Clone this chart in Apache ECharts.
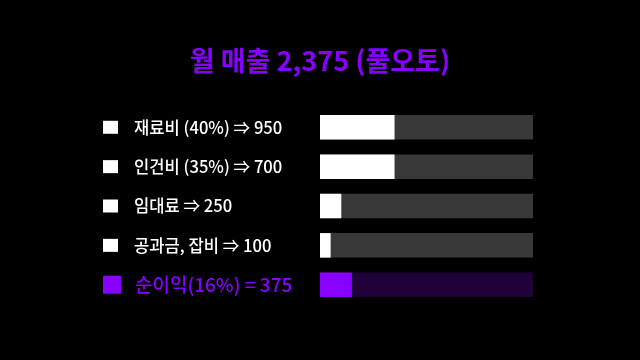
<!DOCTYPE html>
<html><head><meta charset="utf-8">
<script src="https://cdn.jsdelivr.net/npm/echarts@6/dist/echarts.min.js"></script>
<style>html,body{margin:0;padding:0;background:#000}#c{width:640px;height:360px}</style>
</head><body><div id="c"></div>
<script>
var titleText = '월 매출 2,375 (풀오토)';
var categories = ['재료비 (40%) ⇒ 950', '인건비 (35%) ⇒ 700', '임대료 ⇒ 250', '공과금, 잡비 ⇒ 100', '순이익(16%) = 375'];
var amounts = [950, 700, 250, 100, 375];
// bar fill lengths as drawn in the picture (percent of track)
var barFill = [35, 35, 10, 5, 15];
var trackMax = 100;

var PURPLE = '#8800ff';
var chart = echarts.init(document.getElementById('c'));
var last = categories.length - 1;
chart.setOption({
  backgroundColor: '#000',
  animation: false,
  title: {
    text: titleText, left: 'center', top: 42,
    textStyle: { color: PURPLE, fontSize: 27, fontWeight: 'bold', fontFamily: 'Noto Sans CJK KR' }
  },
  grid: { left: 320, right: 107, top: 107.6, bottom: 55.6 },
  xAxis: { type: 'value', min: 0, max: trackMax, show: false },
  yAxis: {
    type: 'category', inverse: true, data: categories,
    axisLine: { show: false }, axisTick: { show: false },
    axisLabel: {
      align: 'left', margin: 217,
      fontFamily: 'Noto Sans CJK KR',
      formatter: function (v, i) {
        return i === last ? '{sqb| }{gapb| }{tb|' + v + '}' : '{sq| }{gap| }{t|' + v + '}';
      },
      rich: {
        sq: { width: 15, height: 13, backgroundColor: '#fff' },
        gap: { width: 16 },
        t: { color: '#fff', fontSize: 16.6, fontFamily: 'Noto Sans CJK KR', fontWeight: 500 },
        sqb: { width: 18, height: 18, backgroundColor: PURPLE },
        gapb: { width: 14 },
        tb: { color: PURPLE, fontSize: 19, fontFamily: 'Noto Sans CJK KR', fontWeight: 500 }
      }
    }
  },
  series: [
    {
      type: 'bar', barWidth: 24.5, barGap: '-100%', silent: true,
      data: categories.map(function (c, i) {
        return { value: trackMax, itemStyle: { color: i === last ? '#1f0038' : '#383838' } };
      })
    },
    {
      type: 'bar', barWidth: 24.5, silent: true,
      data: barFill.map(function (v, i) {
        return { value: v, itemStyle: { color: i === last ? PURPLE : '#fff' } };
      })
    }
  ]
});
</script></body></html>
